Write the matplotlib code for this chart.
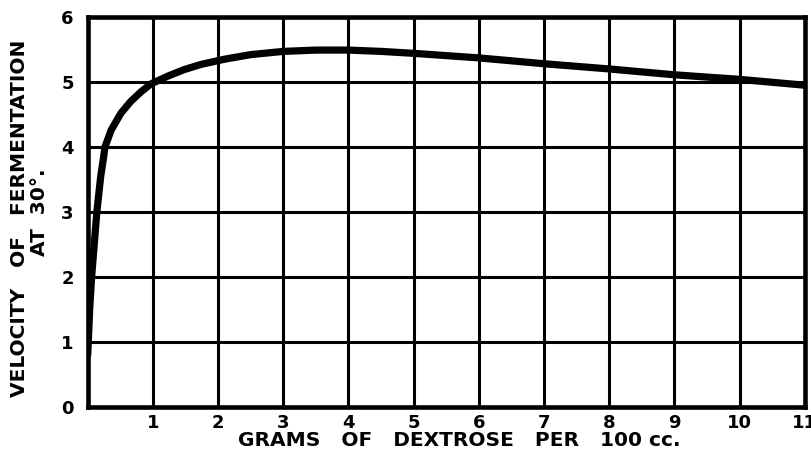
import matplotlib.pyplot as plt
import numpy as np

# dextrose concentration (g per 100 cc) vs. fermentation velocity at 30 deg
dextrose = [0.0, 0.03, 0.06, 0.14, 0.2, 0.245, 0.265, 0.36, 0.51, 0.66, 0.82,
            0.97, 1.23, 1.48, 1.74, 2.1, 2.5, 3.0, 3.5, 4.0, 4.5,
            5.0, 6.0, 7.0, 8.0, 9.0, 10.0, 11.0]
velocity = [0.8, 1.5, 2.0, 3.0, 3.55, 3.85, 4.0, 4.26, 4.52, 4.7, 4.85,
            4.97, 5.09, 5.19, 5.27, 5.35, 5.42, 5.47, 5.49, 5.49, 5.47,
            5.44, 5.37, 5.28, 5.2, 5.11, 5.04, 4.95]

x_ticks = list(range(1, 12))
y_ticks = list(range(0, 7))


def main():
    plt.rcParams['font.family'] = 'DejaVu Sans'
    plt.rcParams['font.weight'] = 'bold'

    fig = plt.figure(figsize=(8.12, 4.57), dpi=100)
    ax = fig.add_axes([0.108, 0.109, 0.883, 0.854])

    ax.plot(dextrose, velocity, color='black', linewidth=5.2,
            solid_capstyle='round', solid_joinstyle='round', zorder=3)

    ax.set_xlim(0, 11)
    ax.set_ylim(0, 6)
    ax.set_xticks(x_ticks)
    ax.set_yticks(y_ticks)
    ax.set_xticklabels([str(t) for t in x_ticks], fontsize=13, fontweight='bold')
    ax.set_yticklabels([str(t) for t in y_ticks], fontsize=13, fontweight='bold')
    ax.tick_params(length=0, pad=5)
    ax.tick_params(axis='y', pad=10)

    for v in x_ticks:
        ax.axvline(v, color='black', linewidth=2.2, zorder=1)
    for v in y_ticks:
        ax.axhline(v, color='black', linewidth=2.2, zorder=1)

    for s in ax.spines.values():
        s.set_linewidth(3.3)
        s.set_color('black')
        s.set_zorder(4)

    fig.text(0.565, 0.037, 'GRAMS   OF   DEXTROSE   PER   100 cc.', ha='center',
             va='center', fontsize=14.5, fontweight='bold')
    fig.text(0.024, 0.523, 'VELOCITY   OF   FERMENTATION', rotation=90,
             ha='center', va='center', fontsize=14.5, fontweight='bold')
    fig.text(0.049, 0.536, 'AT  30°.', rotation=90,
             ha='center', va='center', fontsize=14.5, fontweight='bold')

    fig.savefig('out.png', dpi=100)


if __name__ == "__main__":
    main()
